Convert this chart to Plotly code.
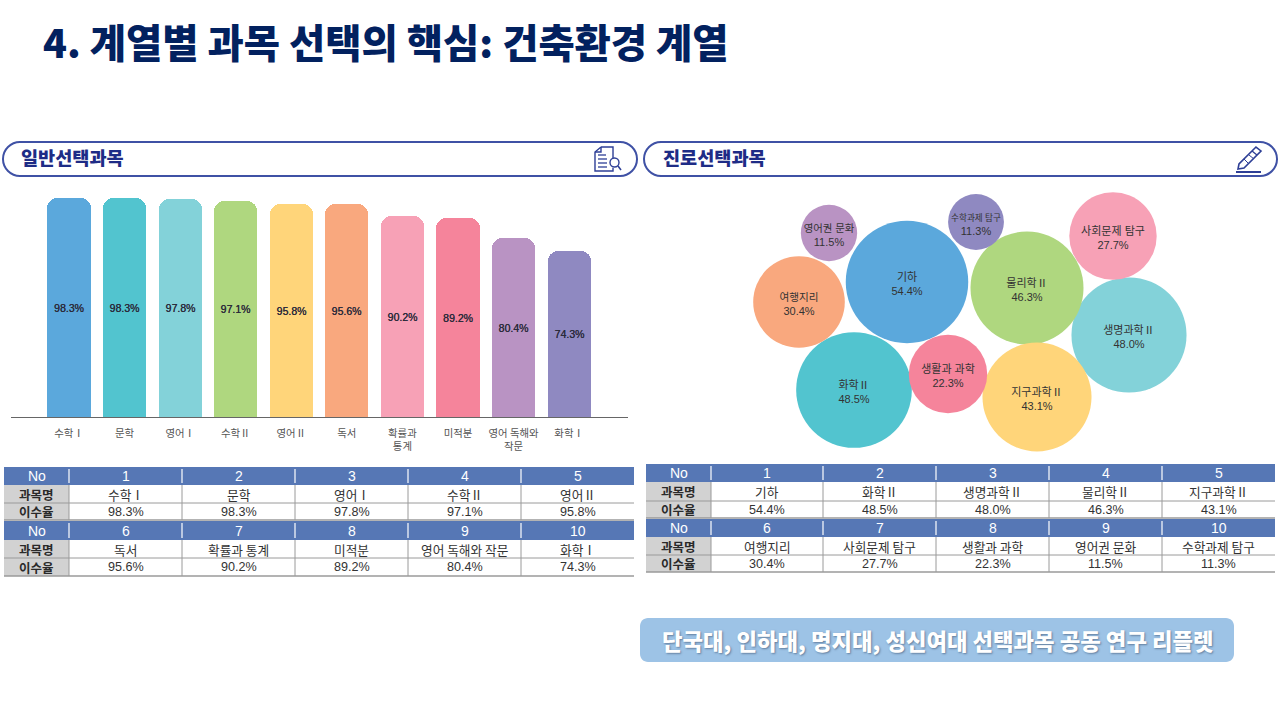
import plotly.graph_objects as go

W, H = 1280, 720
KR = "Noto Sans CJK KR"
LAT = "Liberation Sans, Noto Sans CJK KR"

TITLE = "4. 계열별 과목 선택의 핵심: 건축환경 계열"
PANEL_LEFT = "일반선택과목"
PANEL_RIGHT = "진로선택과목"
BANNER = "단국대, 인하대, 명지대, 성신여대 선택과목 공동 연구 리플렛"

general_labels = ["수학Ⅰ", "문학", "영어Ⅰ", "수학Ⅱ", "영어Ⅱ", "독서", "확률과<br>통계", "미적분", "영어 독해와<br>작문", "화학Ⅰ"]
general_values = [98.3, 98.3, 97.8, 97.1, 95.8, 95.6, 90.2, 89.2, 80.4, 74.3]
general_table_names = ["수학Ⅰ", "문학", "영어Ⅰ", "수학Ⅱ", "영어Ⅱ", "독서", "확률과 통계", "미적분", "영어 독해와 작문", "화학Ⅰ"]
general_colors = ["#5BA8DC", "#52C4CF", "#83D2D9", "#AFD77F", "#FFD57A", "#F9A87E", "#F7A1B6", "#F5849B", "#B993C3", "#8F89C1"]

career_names = ["기하", "화학Ⅱ", "생명과학Ⅱ", "물리학Ⅱ", "지구과학Ⅱ", "여행지리", "사회문제 탐구", "생활과 과학", "영어권 문화", "수학과제 탐구"]
career_values = [54.4, 48.5, 48.0, 46.3, 43.1, 30.4, 27.7, 22.3, 11.5, 11.3]
career_colors = ["#5BA8DC", "#52C4CF", "#83D2D9", "#AFD77F", "#FFD57A", "#F9A87E", "#F7A1B6", "#F5849B", "#B993C3", "#8F89C1"]
career_x = [907, 854, 1129, 1027, 1037, 799, 1113, 948, 829, 976]
career_y = [282, 390, 335, 288, 397, 302, 236, 374, 233, 222]
career_name_sizes = [11, 11, 11, 11, 11, 10.6, 11, 11, 10.4, 8.6]
LABEL_DROP = 3


def px(x):
    return x / W


def py(y):
    return 1 - y / H


shapes, anns = [], []


def rect(x0, y0, x1, y1, fill=None, line=None, lw=0):
    shapes.append(dict(type="rect", xref="paper", yref="paper", x0=px(x0), x1=px(x1), y0=py(y0), y1=py(y1),
                       fillcolor=fill or "rgba(0,0,0,0)", line=dict(color=line or "rgba(0,0,0,0)", width=lw), layer="below"))


def seg(x0, y0, x1, y1, color, lw=1):
    shapes.append(dict(type="line", xref="paper", yref="paper", x0=px(x0), x1=px(x1), y0=py(y0), y1=py(y1),
                       line=dict(color=color, width=lw), layer="below"))


def poly(points, color, lw=1.4, close=False, fill=None):
    d = ""
    for i, p in enumerate(points):
        d += ("M" if i == 0 else "L") + f"{px(p[0]):.5f},{py(p[1]):.5f} "
    if close:
        d += "Z"
    shapes.append(dict(type="path", xref="paper", yref="paper", path=d.strip(),
                       line=dict(color=color, width=lw), fillcolor=fill or "rgba(0,0,0,0)", layer="above"))


def text(x, y, s, size, color="#333333", family=LAT, anchor="center", shadow=None, weight=None):
    font = dict(size=size, color=color, family=family)
    if shadow:
        font["shadow"] = shadow
    if weight:
        font["weight"] = weight
    anns.append(dict(xref="paper", yref="paper", x=px(x), y=py(y), text=s, showarrow=False, xanchor=anchor, yanchor="middle",
                     font=font, borderpad=0, align="center"))


def pill(x0, y0, x1, y1, r, fill, line, lw):
    k = r * 0.45
    pts = [("M", (x0 + r, y0)), ("L", (x1 - r, y0)),
           ("C", (x1 - k, y0), (x1, y0 + k), (x1, y0 + r)),
           ("L", (x1, y1 - r)),
           ("C", (x1, y1 - k), (x1 - k, y1), (x1 - r, y1)),
           ("L", (x0 + r, y1)),
           ("C", (x0 + k, y1), (x0, y1 - k), (x0, y1 - r)),
           ("L", (x0, y0 + r)),
           ("C", (x0, y0 + k), (x0 + k, y0), (x0 + r, y0))]
    d = ""
    for cmd in pts:
        d += cmd[0] + " ".join(f"{px(p[0]):.5f},{py(p[1]):.5f}" for p in cmd[1:]) + " "
    d += "Z"
    shapes.append(dict(type="path", xref="paper", yref="paper", path=d, fillcolor=fill,
                       line=dict(color=line, width=lw), layer="below"))


def table(x_edges, y_edges, names, rates):
    for block in range(2):
        y_h0, y_h1, y_a, y_b = y_edges[block]
        rect(x_edges[0], y_h0, x_edges[-1], y_h1, fill="#5677B5")
        rect(x_edges[0], y_h1, x_edges[1], y_b, fill="#D2D2D2")
        seg(x_edges[0], y_a, x_edges[-1], y_a, "#9A9A9A", 1)
        seg(x_edges[0], y_b, x_edges[-1], y_b, "#9A9A9A", 1.4)
        for xe in x_edges[1:-1]:
            seg(xe, y_h0 + 2, xe, y_h1 - 2, "#FFFFFF", 1.2)
            seg(xe, y_h1, xe, y_b, "#9A9A9A", 1)
        ym = [(y_h0 + y_h1) / 2, (y_h1 + y_a) / 2, (y_a + y_b) / 2]
        xl = (x_edges[0] + x_edges[1]) / 2
        text(xl, ym[0], "No", 14, "#FFFFFF")
        text(xl, ym[1], "과목명", 12.5, "#2A2A2A", KR, weight=700)
        text(xl, ym[2], "이수율", 12.5, "#2A2A2A", KR, weight=700)
        for j in range(5):
            idx = block * 5 + j
            xm = (x_edges[j + 1] + x_edges[j + 2]) / 2
            text(xm, ym[0], str(idx + 1), 14, "#FFFFFF")
            text(xm, ym[1], names[idx], 12.7, "#333333", KR)
            text(xm, ym[2], f"{rates[idx]:.1f}%", 12.6, "#333333")


fig = go.Figure()

fig.add_trace(go.Bar(
    x=list(range(10)), y=general_values, width=0.775,
    marker=dict(color=general_colors, cornerradius=10, line=dict(width=0)),
    text=[f"{v:.1f}%" for v in general_values], textposition="inside", insidetextanchor="middle",
    textangle=0, constraintext="none", cliponaxis=False,
    textfont=dict(size=10.5, color="#2A2A3A", family=LAT, shadow="0.2px 0 0 #2A2A3A"), hoverinfo="skip", xaxis="x", yaxis="y"))

fig.add_trace(go.Scatter(
    x=career_x, y=career_y, mode="markers",
    marker=dict(size=career_values, sizemode="area", sizeref=0.00725, color=career_colors, opacity=1, line=dict(width=0)),
    hoverinfo="skip", cliponaxis=False, xaxis="x2", yaxis="y2"))
fig.add_trace(go.Scatter(
    x=career_x, y=[v + LABEL_DROP for v in career_y], mode="text",
    text=[f'<span style="font-size:{s}px">{n}</span><br>{v:.1f}%'
          for n, v, s in zip(career_names, career_values, career_name_sizes)],
    textposition="middle center", textfont=dict(size=11, color="#333333", family=LAT),
    hoverinfo="skip", cliponaxis=False, xaxis="x2", yaxis="y2"))

# panel headings
pill(3, 142, 637, 176, 17, "#FFFFFF", "#3F51A5", 2)
pill(644, 142, 1277, 176, 17, "#FFFFFF", "#3F51A5", 2)
text(20, 156, PANEL_LEFT, 18.6, "#1E2C86", KR, "left", weight=900)
text(662, 156, PANEL_RIGHT, 18.6, "#1E2C86", KR, "left", weight=900)

# document icon
ICON = "#2E3F96"
poly([(601, 147), (613, 147), (613, 158)], ICON)
poly([(601, 147), (595, 152), (595, 171), (613, 171), (613, 168)], ICON)
poly([(595, 152), (601, 152), (601, 147)], ICON)
for yy in (155, 159, 163, 167):
    poly([(598, yy), (607 if yy > 155 else 606, yy)], ICON, 1.3)
shapes.append(dict(type="circle", xref="paper", yref="paper", x0=px(610), x1=px(619), y0=py(158), y1=py(167),
                   line=dict(color=ICON, width=1.4), fillcolor="#FFFFFF", layer="above"))
poly([(618, 166), (621, 170)], ICON, 1.6)

# pencil icon
poly([(1256, 147), (1261, 151), (1244, 168), (1238, 169), (1239, 164)], ICON, 1.6, close=True)
poly([(1252, 151), (1257, 155)], ICON, 1.3)
poly([(1249, 155), (1254, 159)], ICON, 1)
poly([(1244, 159), (1249, 164)], ICON, 1)
poly([(1236, 172), (1261, 172)], ICON, 2)

table([4, 69, 182, 295, 408, 521, 634], [(467, 485, 503, 520), (521, 540, 558, 576)],
      general_table_names, general_values)
table([646, 711, 823, 936, 1049, 1162, 1275], [(464, 482, 501, 518), (519, 537, 555, 572)],
      career_names, career_values)

# banner
pill(640, 618, 1234, 662, 8, "#9DC3E6", "#9DC3E6", 0)
text(938, 640, BANNER, 22.3, "#FFFFFF", KR, shadow="1px 1px 2px rgba(60,80,110,0.6)", weight=900)

# title
text(42, 40, TITLE, 39.4, "#02215F", KR, "left", weight=900)

fig.update_layout(
    width=W, height=H, margin=dict(l=0, r=0, t=0, b=0), paper_bgcolor="#FFFFFF", plot_bgcolor="rgba(0,0,0,0)",
    showlegend=False, shapes=shapes, annotations=anns, bargap=0,
    xaxis=dict(domain=[px(11), px(628)], range=[-1.044, 10.06], tickmode="array", tickvals=list(range(10)),
               ticktext=general_labels, tickangle=0, showgrid=False, zeroline=False, showline=True, linecolor="#666666",
               linewidth=1.3, ticks="", ticklabelstandoff=6, tickfont=dict(size=10.4, color="#555555", family=KR)),
    yaxis=dict(domain=[py(417), py(190)], range=[0, 101.9], visible=False, fixedrange=True),
    xaxis2=dict(domain=[px(740), px(1200)], range=[740, 1200], visible=False, anchor="y2"),
    yaxis2=dict(domain=[py(455), py(185)], range=[455, 185], visible=False, anchor="x2"),
)

fig.write_html("out.html", config=dict(displayModeBar=False),
               post_script="document.body.style.margin='0';document.body.style.overflow='hidden';")
